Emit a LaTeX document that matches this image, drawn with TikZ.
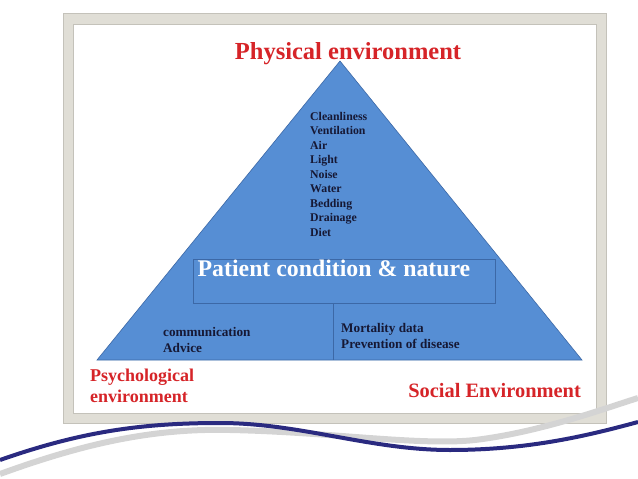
\documentclass[tikz,border=0pt]{standalone}
\usepackage{fontspec}
\setmainfont{Liberation Serif}
\usetikzlibrary{positioning}
\definecolor{pyrblue}{RGB}{86,142,212}
\definecolor{pyredge}{RGB}{60,104,166}
\definecolor{envred}{RGB}{214,36,40}
\definecolor{listnavy}{RGB}{22,24,52}
\definecolor{swooshnavy}{RGB}{42,42,128}
\definecolor{swooshgray}{RGB}{212,212,212}
\definecolor{framegray}{RGB}{224,222,214}
\definecolor{frameedge}{RGB}{196,194,186}
\begin{document}
\begin{tikzpicture}[x=1pt,y=-1pt,
	envlabel/.style={text=envred, font=\bfseries\fontsize{18}{21}\selectfont, inner sep=0pt},
	itemlist/.style={text=listnavy, font=\bfseries\fontsize{11.8}{14.5}\selectfont, align=left, inner sep=0pt},
	sublist/.style={text=listnavy, font=\bfseries\fontsize{13.2}{16.5}\selectfont, align=left, inner sep=0pt},
	pyramid/.style={fill=pyrblue, draw=pyredge, line width=0.6pt},
	patbox/.style={draw=pyredge, line width=0.8pt, minimum width=302pt, minimum height=44pt, inner sep=0pt}]
		\useasboundingbox (0,0) rectangle (638,479);
		\fill[framegray, draw=frameedge] (63,13) rectangle (606,423);
		\fill[white, draw=frameedge] (73,24) rectangle (596,413);
		\coordinate (apex) at (340,61);
		\coordinate (left) at (97,360);
		\coordinate (right) at (582,360);
		\coordinate (split) at (333,360);
		\draw[pyramid] (apex) -- (right) -- (left) -- cycle;
		\node (box) [patbox] at (344,281) {};
		\node (pat) [below=0pt of box.north, xshift=-10pt, inner sep=1pt, text=white, font=\bfseries\fontsize{23.8}{27}\selectfont] {Patient condition \& nature};
		\draw[draw=pyredge, line width=0.8pt] (box.south -| split) -- (split);
		\node (physlist) [itemlist, anchor=north west] at (310,112) {Cleanliness\\Ventilation\\Air\\Light\\Noise\\Water\\Bedding\\Drainage\\Diet};
		\node (psychlist) [sublist, anchor=north west] at (163,327) {communication\\Advice};
		\node (sociallist) [sublist, anchor=north west] at (341,323) {Mortality data\\Prevention of disease};
		\node (physical) [envlabel, font=\bfseries\fontsize{24.5}{28}\selectfont, anchor=base] at (348,59) {Physical environment};
		\node (psych) [envlabel, anchor=north west, align=left] at (90,369) {Psychological\\environment};
		\node (social) [envlabel, font=\bfseries\fontsize{20.4}{24}\selectfont, anchor=base east] at (581,397) {Social Environment};
		\draw[swooshgray, line width=6pt] (0,474) .. controls (80,445) and (150,428) .. (230,430) .. controls (330,432) and (420,446) .. (475,440) .. controls (540,432) and (600,410) .. (638,398);
		\draw[swooshnavy, line width=4pt] (0,460) .. controls (80,432) and (140,423) .. (220,423) .. controls (300,423) and (370,450) .. (450,450) .. controls (530,450) and (590,435) .. (638,422);
\end{tikzpicture}
\end{document}
